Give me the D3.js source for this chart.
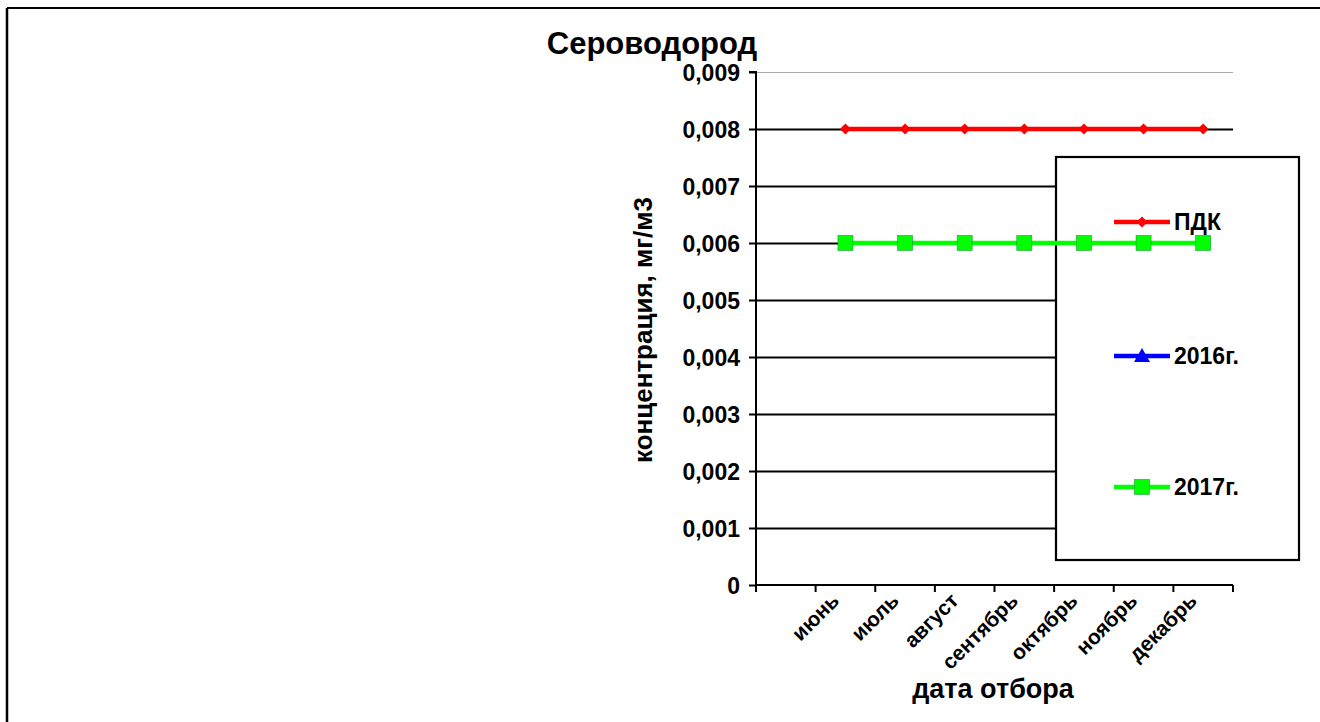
<!DOCTYPE html>
<html>
<head>
<meta charset="utf-8">
<script src="https://cdn.jsdelivr.net/npm/d3@7"></script>
<style>
  html, body { margin: 0; padding: 0; background: #fff; }
  svg { display: block; font-family: "Liberation Sans", Arial, sans-serif; font-weight: bold; }
</style>
</head>
<body>
<svg id="chart" width="1320" height="722"></svg>
<script>
// ---- data ----
const categories = ["", "июнь", "июль", "август", "сентябрь", "октябрь", "ноябрь", "декабрь"];
const pdk   = [null, 0.008, 0.008, 0.008, 0.008, 0.008, 0.008, 0.008];
const y2016 = [null, null, null, null, null, null, null, null];
const y2017 = [null, 0.006, 0.006, 0.006, 0.006, 0.006, 0.006, 0.006];
const yTicks = [0, 0.001, 0.002, 0.003, 0.004, 0.005, 0.006, 0.007, 0.008, 0.009];
const yTickLabels = ["0", "0,001", "0,002", "0,003", "0,004", "0,005", "0,006", "0,007", "0,008", "0,009"];
const seriesNames = ["ПДК", "2016г.", "2017г."];
const title = "Сероводород";
const yTitle = "концентрация, мг/м3";
const xTitle = "дата отбора";

const series = [
  { name: seriesNames[0], values: pdk,   color: "#ff0000", marker: "diamond" },
  { name: seriesNames[1], values: y2016, color: "#0000ff", marker: "triangle" },
  { name: seriesNames[2], values: y2017, color: "#00ff00", marker: "square" }
];

const svg = d3.select("#chart");
const W = 1320, H = 722;
const plot = { left: 756, right: 1233, top: 72, bottom: 585 };

// outer chart border (only top and left visible)
svg.append("line").attr("x1", 7).attr("y1", 8).attr("x2", W).attr("y2", 8)
  .attr("stroke", "#000").attr("stroke-width", 2);
svg.append("line").attr("x1", 7).attr("y1", 8).attr("x2", 7).attr("y2", H)
  .attr("stroke", "#000").attr("stroke-width", 2.5);

const x = d3.scaleBand().domain(d3.range(categories.length))
  .range([plot.left, plot.right]).padding(0);
const y = d3.scaleLinear().domain([0, 0.009]).range([plot.bottom, plot.top]);

// gridlines
svg.append("g").selectAll("line").data(yTicks.slice(1))
  .join("line")
  .attr("x1", plot.left).attr("x2", plot.right)
  .attr("y1", d => Math.round(y(d)) + 0.5).attr("y2", d => Math.round(y(d)) + 0.5)
  .attr("stroke", d => d === 0.009 ? "#aaaaaa" : "#000")
  .attr("stroke-width", d => d === 0.009 ? 1.2 : 2);

// y axis
const yAxis = d3.axisLeft(y).tickValues(yTicks).tickSize(7).tickPadding(9)
  .tickFormat((d, i) => yTickLabels[i]);
const gy = svg.append("g").attr("transform", `translate(${plot.left},0)`).call(yAxis);
gy.select(".domain").attr("stroke", "#000").attr("stroke-width", 2).attr("d", `M-7,${plot.top}H0V${plot.bottom}`);
gy.selectAll(".tick line").attr("stroke", "#000").attr("stroke-width", 2);
gy.selectAll(".tick text").attr("fill", "#000").attr("font-size", 23)
  .attr("font-family", "Liberation Sans, Arial, sans-serif").attr("font-weight", "bold")
  .attr("dy", "0.36em");

// x axis: ticks at category boundaries
const xb = d3.scaleLinear().domain([0, categories.length]).range([plot.left, plot.right]);
const gx = svg.append("g").attr("transform", `translate(0,${plot.bottom})`);
gx.append("line").attr("x1", plot.left).attr("x2", plot.right).attr("y1", 0).attr("y2", 0)
  .attr("stroke", "#000").attr("stroke-width", 2);
gx.selectAll("line.tk").data(d3.range(categories.length + 1)).join("line")
  .attr("class", "tk")
  .attr("x1", d => xb(d)).attr("x2", d => xb(d)).attr("y1", 0).attr("y2", 7)
  .attr("stroke", "#000").attr("stroke-width", 2);
gx.selectAll("text").data(categories).join("text")
  .attr("transform", (d, i) => `translate(${x(i) + x.bandwidth() / 2 - 5},${17}) rotate(-45)`)
  .attr("text-anchor", "end")
  .attr("font-size", 21)
  .attr("fill", "#000")
  .text(d => d);

// lines & markers
const line = d3.line().defined(d => d != null)
  .x((d, i) => x(i) + x.bandwidth() / 2).y(d => y(d));

function drawMarker(g, type, color, cx, cy) {
  if (type === "diamond") {
    g.append("path").attr("d", `M${cx},${cy - 5.5}L${cx + 5.5},${cy}L${cx},${cy + 5.5}L${cx - 5.5},${cy}Z`).attr("fill", color);
  } else if (type === "square") {
    g.append("rect").attr("x", cx - 7.5).attr("y", cy - 7.5).attr("width", 15).attr("height", 15)
      .attr("fill", color).attr("stroke", "#1a9a3a").attr("stroke-width", 0.6);
  } else if (type === "triangle") {
    g.append("path").attr("d", `M${cx},${cy - 8}L${cx + 8},${cy + 6}L${cx - 8},${cy + 6}Z`).attr("fill", color);
  }
}

// legend
const lg = svg.append("g");
lg.append("rect").attr("x", 1056).attr("y", 157).attr("width", 243).attr("height", 403)
  .attr("fill", "#fff").attr("stroke", "#000").attr("stroke-width", 2.2);
const legendY = [222, 356, 487];
series.forEach((s, i) => {
  const ly = legendY[i];
  lg.append("line").attr("x1", 1114).attr("x2", 1170).attr("y1", ly).attr("y2", ly)
    .attr("stroke", s.color).attr("stroke-width", 4.5);
  drawMarker(lg, s.marker, s.color, 1142, ly);
  lg.append("text").attr("x", 1174).attr("y", ly).attr("dy", "0.36em")
    .attr("font-size", 23).attr("fill", "#000").text(s.name);
});

// the series lines overlay the legend in the reference
const gs = svg.append("g");
series.forEach(s => {
  gs.append("path").datum(s.values).attr("d", line)
    .attr("fill", "none").attr("stroke", s.color).attr("stroke-width", 4.5);
  s.values.forEach((v, i) => {
    if (v != null) drawMarker(gs, s.marker, s.color, x(i) + x.bandwidth() / 2, y(v));
  });
});

// titles
svg.append("text").attr("x", 652).attr("y", 54).attr("text-anchor", "middle")
  .attr("font-size", 31).attr("fill", "#000").text(title);
svg.append("text").attr("transform", `translate(652,330) rotate(-90)`)
  .attr("text-anchor", "middle").attr("font-size", 26).attr("fill", "#000").text(yTitle);
svg.append("text").attr("x", 993).attr("y", 698).attr("text-anchor", "middle")
  .attr("font-size", 27).attr("fill", "#000").text(xTitle);
</script>
</body>
</html>
